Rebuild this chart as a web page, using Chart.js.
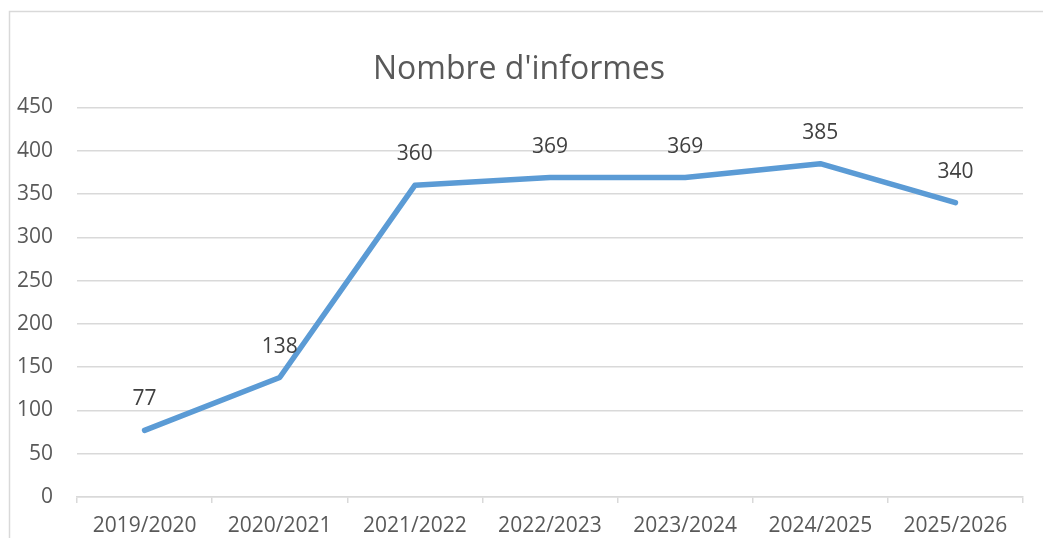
<!DOCTYPE html>
<html>
<head>
<meta charset="utf-8">
<script src="https://cdn.jsdelivr.net/npm/chart.js@4/dist/chart.umd.min.js"></script>
<style>
  body { margin: 0; background: #fff; overflow: hidden; }
  canvas { display: block; }
</style>
</head>
<body>
<canvas id="chart" width="1043" height="538"></canvas>
<script>
const categories = ['2019/2020', '2020/2021', '2021/2022', '2022/2023', '2023/2024', '2024/2025', '2025/2026']
const informes = [77, 138, 360, 369, 369, 385, 340]
const yTicks = [0, 50, 100, 150, 200, 250, 300, 350, 400, 450]

const FONT = "'Open Sans', 'Noto Sans', sans-serif"

// frame of the chart box (only left and top edges are visible in the picture)
const framePlugin = {
    id: 'frame',
    beforeDraw(chart) {
        const ctx = chart.ctx
        ctx.save()
        ctx.fillStyle = '#fff'
        ctx.fillRect(0, 0, chart.width, chart.height)
        ctx.strokeStyle = '#d9d9d9'
        ctx.lineWidth = 1.5
        ctx.beginPath()
        ctx.moveTo(9.5, chart.height)
        ctx.lineTo(9.5, 11.5)
        ctx.lineTo(chart.width, 11.5)
        ctx.stroke()
        ctx.restore()
    }
}

// value labels above each point
const valueLabels = {
    id: 'valueLabels',
    afterDatasetsDraw(chart) {
        const ctx = chart.ctx
        const meta = chart.getDatasetMeta(0)
        ctx.save()
        ctx.font = '21px ' + FONT
        ctx.fillStyle = '#404040'
        ctx.textAlign = 'center'
        ctx.textBaseline = 'middle'
        meta.data.forEach((pt, i) => {
            ctx.fillText(String(informes[i]), pt.x, pt.y - 31)
        })
        ctx.restore()
    }
}

new Chart(document.getElementById('chart').getContext('2d'), {
    type: 'line',
    data: {
        labels: categories,
        datasets: [{
            label: "Nombre d'informes",
            data: informes,
            borderColor: '#5b9bd5',
            borderWidth: 5.5,
            borderCapStyle: 'round',
            borderJoinStyle: 'round',
            pointRadius: 0,
            tension: 0,
            fill: false
        }]
    },
    options: {
        responsive: false,
        animation: false,
        layout: { padding: { left: 15, right: 20, top: 0, bottom: 0 } },
        plugins: {
            legend: { display: false },
            tooltip: { enabled: false },
            title: {
                display: true,
                text: "Nombre d'informes",
                color: '#595959',
                font: { family: FONT, size: 32, weight: 'normal' },
                padding: { top: 51, bottom: 18 }
            }
        },
        scales: {
            x: {
                offset: true,
                grid: {
                    display: true,
                    offset: true,
                    drawOnChartArea: false,
                    drawTicks: true,
                    tickLength: 6,
                    color: '#d9d9d9',
                    lineWidth: 1.5
                },
                border: { display: true, color: '#d9d9d9', width: 1.5 },
                ticks: {
                    color: '#595959',
                    font: { family: FONT, size: 21 },
                    padding: 10,
                    maxRotation: 0,
                    autoSkip: false
                },
                afterFit(scale) { scale.height = 41 }
            },
            y: {
                min: 0,
                max: 450,
                afterBuildTicks(scale) { scale.ticks = yTicks.map(v => ({ value: v })) },
                grid: { color: '#d9d9d9', lineWidth: 1.5, drawTicks: false },
                border: { display: false },
                ticks: {
                    color: '#595959',
                    font: { family: FONT, size: 21 },
                    padding: 24
                },
                afterFit(scale) { scale.width = 62 }
            }
        }
    },
    plugins: [framePlugin, valueLabels]
})
</script>
</body>
</html>
